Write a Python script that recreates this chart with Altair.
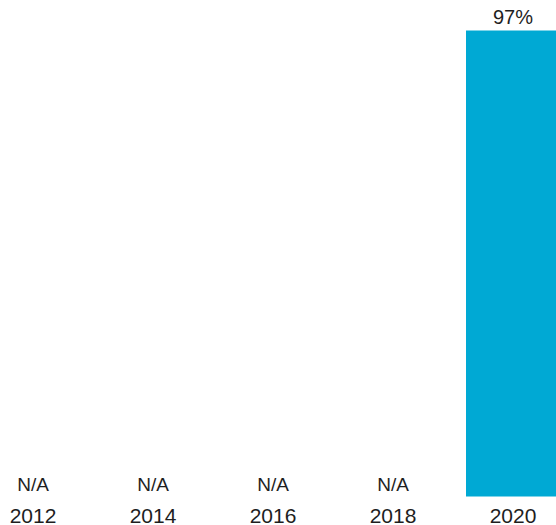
import altair as alt
import pandas as pd

years = ["2012", "2014", "2016", "2018", "2020"]
values = [None, None, None, None, 97]
labels = ["N/A", "N/A", "N/A", "N/A", "97%"]

df = pd.DataFrame({"year": years, "value": values, "label": labels})

FONT = "Liberation Sans"
TXT = "#1e1e1e"

x = alt.X(
    "year:N",
    sort=years,
    scale=alt.Scale(range=[-27, 573], paddingInner=0.2167, paddingOuter=0.10835),
    axis=alt.Axis(
        title=None, domain=False, ticks=False, tickSize=0, labelAngle=0,
        labelFontSize=21, labelFont=FONT, labelColor=TXT,
        labelBaseline="alphabetic", labelPadding=25,
    ),
)
yscale = alt.Scale(domain=[0, 100], range=[496.5, 16])

base = alt.Chart(df)

bars = base.mark_bar(color="#00A9D4").encode(
    x=x,
    y=alt.Y("value:Q", scale=yscale, axis=None),
).transform_filter("isValid(datum.value)")

top_labels = base.mark_text(
    font=FONT, fontSize=20, color=TXT, baseline="alphabetic", dy=-6.5
).encode(
    x=x,
    y=alt.Y("value:Q", scale=yscale, axis=None),
    text="label:N",
).transform_filter("isValid(datum.value)")

na_labels = base.mark_text(
    font=FONT, fontSize=19, color=TXT, baseline="alphabetic", dy=-5.5
).encode(
    x=x,
    y=alt.datum(0, scale=yscale),
    text="label:N",
).transform_filter("!isValid(datum.value)")

chart = (
    alt.layer(bars, top_labels, na_labels)
    .properties(
        width=556, height=497,
        autosize=alt.AutoSizeParams(type="none"),
        padding={"left": 0, "top": 0, "right": 0, "bottom": 28},
        view=alt.ViewBackground(strokeOpacity=0, strokeWidth=0),
    )
    .configure_view(strokeOpacity=0, strokeWidth=0)
    .configure_axisY(disable=True)
    .configure_axis(grid=False, domain=False)
    .configure(background="white")
)

chart.save("out.html", embed_options={"renderer": "svg", "actions": False})
